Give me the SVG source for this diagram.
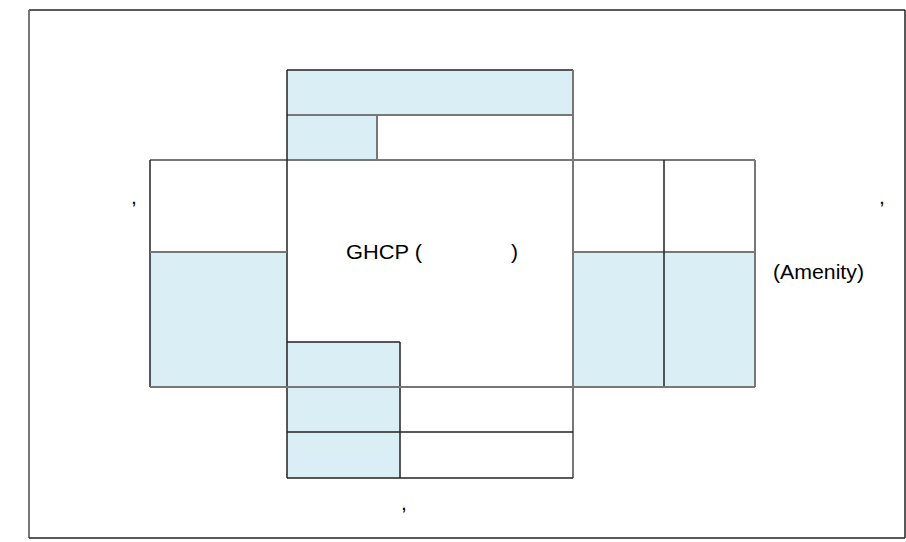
<svg xmlns="http://www.w3.org/2000/svg" width="906" height="542" viewBox="0 0 906 542">
<style>
.blue{fill:#daeff5}
.white{fill:#ffffff}
.dk{stroke:#222;stroke-width:1.5;fill:none}
.gr{stroke:#777;stroke-width:2;fill:none}
.t{font-family:"Liberation Sans",Arial,sans-serif;font-size:21px;fill:#000}
</style>
<rect x="0" y="0" width="906" height="542" fill="#fff"/>
<g id="frame">
<line class="dk" x1="29" y1="10" x2="905" y2="10"/>
<line class="gr" x1="29" y1="10" x2="29" y2="538"/>
<line class="dk" x1="905" y1="10" x2="905" y2="538"/>
<line class="dk" x1="29" y1="538" x2="905" y2="538"/>
</g>
<g id="top-bar"><rect class="blue" x="287" y="70" width="286" height="45"/></g>
<g id="top-left"><rect class="blue" x="287" y="115" width="90" height="45"/></g>
<g id="top-right"><rect class="white" x="377" y="115" width="196" height="45"/></g>
<g id="left-top"><rect class="white" x="150" y="160" width="137" height="92"/></g>
<g id="left-bottom"><rect class="blue" x="150" y="252" width="137" height="135"/></g>
<g id="center"><rect class="white" x="287" y="160" width="286" height="227"/>
<text class="t" x="346" y="259" textLength="76" lengthAdjust="spacingAndGlyphs">GHCP (</text><text class="t" x="511" y="259">)</text></g>
<g id="center-sub"><rect class="blue" x="287" y="342" width="113" height="45"/></g>
<g id="bottom1-left"><rect class="blue" x="287" y="387" width="113" height="45"/></g>
<g id="bottom1-right"><rect class="white" x="400" y="387" width="173" height="45"/></g>
<g id="bottom2-left"><rect class="blue" x="287" y="432" width="113" height="46"/></g>
<g id="bottom2-right"><rect class="white" x="400" y="432" width="173" height="46"/></g>
<g id="right1-top"><rect class="white" x="573" y="160" width="91" height="92"/></g>
<g id="right1-bottom"><rect class="blue" x="573" y="252" width="91" height="135"/></g>
<g id="right2-top"><rect class="white" x="664" y="160" width="91" height="92"/></g>
<g id="right2-bottom"><rect class="blue" x="664" y="252" width="91" height="135"/></g>
<g id="lines">
<line class="dk" x1="287" y1="70" x2="573" y2="70"/>
<line class="gr" x1="287" y1="115" x2="573" y2="115"/>
<line class="gr" x1="377" y1="115" x2="377" y2="160"/>
<line class="gr" x1="150" y1="160" x2="755" y2="160"/>
<line class="dk" x1="287" y1="70" x2="287" y2="478"/>
<line class="gr" x1="573" y1="70" x2="573" y2="478"/>
<line class="dk" x1="150" y1="160" x2="150" y2="387"/>
<line class="gr" x1="150" y1="252" x2="287" y2="252"/>
<line class="gr" x1="573" y1="252" x2="755" y2="252"/>
<line class="dk" x1="664" y1="160" x2="664" y2="387"/>
<line class="gr" x1="755" y1="160" x2="755" y2="387"/>
<line class="dk" x1="287" y1="342" x2="400" y2="342"/>
<line class="dk" x1="400" y1="342" x2="400" y2="478"/>
<line class="gr" x1="150" y1="387" x2="755" y2="387"/>
<line class="dk" x1="287" y1="432" x2="573" y2="432"/>
<line class="dk" x1="287" y1="478" x2="573" y2="478"/>
</g>
<g id="labels">
<text class="t" x="131" y="204">,</text>
<text class="t" x="879" y="204">,</text>
<text class="t" x="401" y="510">,</text>
<text class="t" x="773" y="279" textLength="91" lengthAdjust="spacingAndGlyphs">(Amenity)</text>
</g>
</svg>
